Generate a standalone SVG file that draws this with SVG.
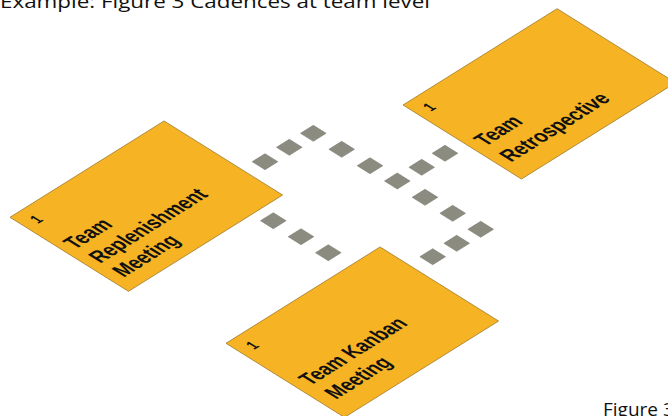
<svg xmlns="http://www.w3.org/2000/svg" xmlns:xlink="http://www.w3.org/1999/xlink" width="668" height="416" viewBox="0 0 668 416">
<style>
.panel{fill:#F6B323;stroke:#A88232;stroke-width:0.8}
.lbl{font-family:"Liberation Sans",Arial,sans-serif;font-weight:bold;font-size:23px;fill:#111}
.num{font-family:"Liberation Sans",Arial,sans-serif;font-weight:bold;font-size:16px;fill:#111}
.cap{font-family:"Open Sans","Liberation Sans",sans-serif;font-size:19px;fill:#111}
.sq{fill:#8B8B80;stroke:#7C7C72;stroke-width:0.6}
</style>
<defs>
<polygon id="d" class="sq" points="-12.8,0 0,-8 12.8,0 0,8"/>
</defs>
<rect width="668" height="416" fill="#fff"/>
<text class="cap" x="0" y="8" textLength="430" lengthAdjust="spacingAndGlyphs">Example: Figure 3 Cadences at team level</text>
<text class="cap" x="603" y="416">Figure 3</text>
<g id="connectors">
<use xlink:href="#d" x="265" y="161.7"/>
<use xlink:href="#d" x="289.3" y="147.3"/>
<use xlink:href="#d" x="313.3" y="133.3"/>
<use xlink:href="#d" x="341.7" y="149.3"/>
<use xlink:href="#d" x="370" y="165.7"/>
<use xlink:href="#d" x="397.3" y="181"/>
<use xlink:href="#d" x="425" y="197.3"/>
<use xlink:href="#d" x="452.7" y="213.3"/>
<use xlink:href="#d" x="480.7" y="229.3"/>
<use xlink:href="#d" x="456.7" y="243.3"/>
<use xlink:href="#d" x="432.7" y="256.7"/>
<use xlink:href="#d" x="445" y="153.3"/>
<use xlink:href="#d" x="421.7" y="167.3"/>
<use xlink:href="#d" x="273.3" y="220.7"/>
<use xlink:href="#d" x="301" y="236.7"/>
<use xlink:href="#d" x="328.3" y="252.7"/>
</g>
<g id="replenishment" transform="matrix(0.848 -0.53 0.848 0.53 10 217.3)">
<polygon class="panel" points="0,0 181.7,0 181.7,139.7 0,139.7"/>
<g transform="scale(0.78 1)">
<text class="num" x="13" y="23">1</text>
<text class="lbl" x="10" y="69">Team</text>
<text class="lbl" x="12" y="97">Replenishment</text>
<text class="lbl" x="13" y="124">Meeting</text>
</g>
</g>
<g id="retrospective" transform="matrix(0.848 -0.53 0.848 0.53 403 105)">
<polygon class="panel" points="0,0 181.7,0 181.7,139.7 0,139.7"/>
<g transform="scale(0.78 1)">
<text class="num" x="13" y="23">1</text>
<text class="lbl" x="12" y="88">Team</text>
<text class="lbl" x="12" y="118">Retrospective</text>
</g>
</g>
<g id="kanban" transform="matrix(0.848 -0.53 0.848 0.53 226 343.3)">
<polygon class="panel" points="0,0 181.7,0 181.7,139.7 0,139.7"/>
<g transform="scale(0.78 1)">
<text class="num" x="13" y="23">1</text>
<text class="lbl" x="12" y="90">Team Kanban</text>
<text class="lbl" x="15" y="118">Meeting</text>
</g>
</g>
</svg>
